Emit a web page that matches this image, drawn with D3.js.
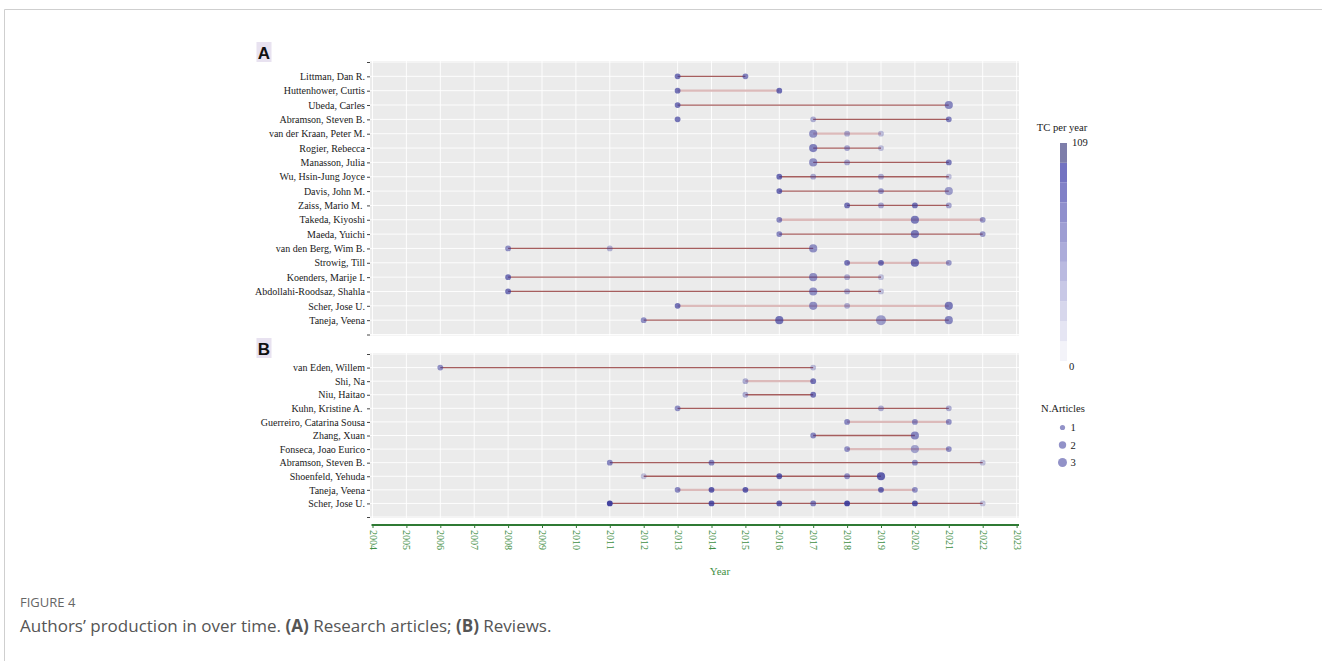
<!DOCTYPE html>
<html><head><meta charset="utf-8">
<script src="https://cdn.jsdelivr.net/npm/d3@7"></script>
<style>
body{margin:0;background:#fff;}
svg{display:block;}
text{white-space:pre;}
</style></head><body>
<svg id="fig" width="1322" height="661"></svg>
<script>
// ---- Panel A: research articles ----
const authorsA = ["Littman, Dan R.", "Huttenhower, Curtis", "Ubeda, Carles", "Abramson, Steven B.",
  "van der Kraan, Peter M.", "Rogier, Rebecca", "Manasson, Julia", "Wu, Hsin-Jung Joyce",
  "Davis, John M.", "Zaiss, Mario M. ", "Takeda, Kiyoshi", "Maeda, Yuichi", "van den Berg, Wim B.",
  "Strowig, Till", "Koenders, Marije I.", "Abdollahi-Roodsaz, Shahla", "Scher, Jose U.", "Taneja, Veena"];
const yearsA = [[2013, 2015], [2013, 2016], [2013, 2021], [2013, 2017, 2021],
  [2017, 2018, 2019], [2017, 2018, 2019], [2017, 2018, 2021], [2016, 2017, 2019, 2021],
  [2016, 2019, 2021], [2018, 2019, 2020, 2021], [2016, 2020, 2022], [2016, 2020, 2022], [2008, 2011, 2017],
  [2018, 2019, 2020, 2021], [2008, 2017, 2018, 2019], [2008, 2017, 2018, 2019], [2013, 2017, 2018, 2021], [2012, 2016, 2019, 2021]];
const articlesA = [[1, 1], [1, 1], [1, 2], [1, 1, 1],
  [2, 1, 1], [2, 1, 1], [2, 1, 1], [1, 1, 1, 1],
  [1, 1, 2], [1, 1, 1, 1], [1, 2, 1], [1, 2, 1], [1, 1, 2],
  [1, 1, 2, 1], [1, 2, 1, 1], [1, 2, 1, 1], [1, 2, 1, 2], [1, 2, 3, 2]];
const tcA = [[65, 55], [65, 70], [65, 50], [65, 25, 55],
  [45, 25, 14], [55, 30, 14], [45, 28, 60], [70, 28, 25, 12],
  [70, 40, 35], [65, 30, 65, 30], [50, 60, 40], [50, 60, 40], [45, 20, 45],
  [65, 70, 70, 40], [65, 45, 25, 12], [65, 45, 25, 12], [65, 45, 25, 60], [45, 65, 35, 50]];
const spanA = [[2013, 2015], [2013, 2016], [2013, 2021], [2017, 2021],
  [2017, 2019], [2017, 2019], [2017, 2021], [2016, 2021],
  [2016, 2021], [2018, 2021], [2016, 2022], [2016, 2022], [2008, 2017],
  [2018, 2021], [2008, 2019], [2008, 2019], [2013, 2021], [2012, 2021]];
const spanGroupA = ["a", "b", "a", "a", "b", "a", "a", "a", "a", "a", "b", "a", "a", "b", "a", "a", "b", "a"];

// ---- Panel B: reviews ----
const authorsB = ["van Eden, Willem", "Shi, Na", "Niu, Haitao", "Kuhn, Kristine A. ",
  "Guerreiro, Catarina Sousa", "Zhang, Xuan", "Fonseca, Joao Eurico", "Abramson, Steven B.",
  "Shoenfeld, Yehuda", "Taneja, Veena", "Scher, Jose U."];
const yearsB = [[2006, 2017], [2015, 2017], [2015, 2017], [2013, 2019, 2021],
  [2018, 2020, 2021], [2017, 2020], [2018, 2020, 2021], [2011, 2014, 2020, 2022],
  [2012, 2016, 2018, 2019], [2013, 2014, 2015, 2019, 2020], [2011, 2014, 2016, 2017, 2018, 2020, 2022]];
const articlesB = [[1, 1], [1, 1], [1, 1], [1, 1, 1],
  [1, 1, 1], [1, 2], [1, 2, 1], [1, 1, 1, 1],
  [1, 1, 1, 2], [1, 1, 1, 1, 1], [1, 1, 1, 1, 1, 1, 1]];
const tcB = [[45, 15], [25, 65], [25, 65], [45, 25, 25],
  [50, 45, 45], [50, 50], [45, 30, 45], [50, 50, 45, 10],
  [10, 80, 45, 80], [50, 80, 80, 75, 45], [100, 85, 80, 55, 95, 85, 8]];
const spanB = [[2006, 2017], [2015, 2017], [2015, 2017], [2013, 2021],
  [2018, 2021], [2017, 2020], [2018, 2021], [2011, 2022],
  [2012, 2019], [2013, 2020], [2011, 2022]];
const spanGroupB = ["a", "b", "a", "a", "b", "a", "b", "a", "a", "b", "a"];

// ---- Axis / legend values ----
const yearTicks = d3.range(2004, 2024);
const tcDomain = [0, 109];
const articleLevels = [1, 2, 3];

const svg = d3.select("#fig");
const serif = "Liberation Serif, Times New Roman, serif";

// outer frame
svg.append("path").attr("d", "M4.5,661 V9.5 H1322").attr("fill", "none")
  .attr("stroke", "#cfcfcf").attr("stroke-width", 1);

const x = d3.scaleLinear().domain([2004, 2023]).range([372.5, 1016.6]);
const plotLeft = 370, plotRight = 1019;

const alpha = d3.scaleLinear().domain(tcDomain).range([0.2, 1]);
const radius = d3.scaleSqrt().domain([0, 3]).range([0, 5]);
const spanStroke = d3.scaleOrdinal().domain(["a", "b"]).range(["#a65e5e", "#dcbaba"]);
const spanWidth = d3.scaleOrdinal().domain(["a", "b"]).range([1.3, 2.3]);
const dotColor = "#38389a";

function panel(cfg) {
  const cats = ["__top", ...cfg.authors, "__bot"];
  const y = d3.scalePoint().domain(cats).range(cfg.yRange);
  const g = svg.append("g");
  g.append("rect").attr("x", plotLeft).attr("y", cfg.yRange[0] - 1)
    .attr("width", plotRight - plotLeft).attr("height", cfg.yRange[1] - cfg.yRange[0] + 2)
    .attr("fill", "#ebebeb");
  // grid
  g.selectAll(".vg").data(yearTicks).join("line")
    .attr("x1", d => x(d)).attr("x2", d => x(d))
    .attr("y1", cfg.yRange[0] - 1).attr("y2", cfg.yRange[1] + 1)
    .attr("stroke", "#fff").attr("stroke-width", 0.9);
  g.selectAll(".hg").data(cats).join("line")
    .attr("x1", plotLeft).attr("x2", plotRight)
    .attr("y1", d => y(d)).attr("y2", d => y(d))
    .attr("stroke", "#fff").attr("stroke-width", 0.9);
  // y axis
  const ax = g.append("g").attr("transform", `translate(${plotLeft},0)`)
    .call(d3.axisLeft(y).tickSize(3).tickPadding(2)
      .tickFormat(d => d.startsWith("__") ? "" : d));
  ax.select(".domain").remove();
  ax.selectAll("line").attr("stroke", "#444");
  ax.selectAll("text").attr("font-family", serif).attr("font-size", 10).attr("fill", "#1a1a1a");
  // spans
  g.selectAll(".span").data(cfg.authors).join("line")
    .attr("x1", (d, i) => x(cfg.span[i][0])).attr("x2", (d, i) => x(cfg.span[i][1]))
    .attr("y1", d => y(d)).attr("y2", d => y(d))
    .attr("stroke", (d, i) => spanStroke(cfg.group[i]))
    .attr("stroke-width", (d, i) => spanWidth(cfg.group[i]));
  // points
  const pts = [];
  cfg.authors.forEach((a, i) => cfg.years[i].forEach((yr, j) =>
    pts.push({ author: a, year: yr, n: cfg.n[i][j], tc: cfg.tc[i][j] })));
  g.selectAll(".pt").data(pts).join("circle")
    .attr("cx", d => x(d.year)).attr("cy", d => y(d.author))
    .attr("r", d => radius(d.n))
    .attr("fill", dotColor).attr("fill-opacity", d => alpha(d.tc));
  // panel tag
  const tag = svg.append("g");
  tag.append("rect").attr("x", cfg.tag[1]).attr("y", cfg.tag[2]).attr("width", 15).attr("height", 20)
    .attr("fill", "#e8e2f0");
  tag.append("text").attr("x", cfg.tag[1] + 7.5).attr("y", cfg.tag[2] + 16.5).attr("text-anchor", "middle")
    .attr("font-family", "Liberation Sans, Arial, sans-serif").attr("font-weight", "bold")
    .attr("font-size", 17).attr("fill", "#111").text(cfg.tag[0]);
}

panel({ authors: authorsA, years: yearsA, n: articlesA, tc: tcA, span: spanA, group: spanGroupA,
  yRange: [62, 334.5], tag: ["A", 256.5, 42] });
panel({ authors: authorsB, years: yearsB, n: articlesB, tc: tcB, span: spanB, group: spanGroupB,
  yRange: [354, 517], tag: ["B", 256.5, 338] });

// x axis
const xa = svg.append("g").attr("transform", "translate(0,525)")
  .call(d3.axisBottom(x).tickValues(yearTicks).tickFormat(d3.format("d")).tickSize(3).tickPadding(4));
xa.select(".domain").attr("d", `M${plotLeft + 1.5},0H${plotRight}`).attr("stroke", "#2f7a34").attr("stroke-width", 2);
xa.selectAll(".tick line").attr("stroke", "#2f7a34");
xa.selectAll(".tick text").attr("font-family", serif).attr("font-size", 10).attr("fill", "#3f8f45")
  .attr("transform", "rotate(90)").attr("text-anchor", "start")
  .attr("x", 5).attr("y", 0).attr("dy", "0.35em");
svg.append("text").attr("x", 720).attr("y", 575).attr("text-anchor", "middle")
  .attr("font-family", serif).attr("font-size", 11).attr("fill", "#3f8f45").text("Year");

// colour legend (TC per year)
svg.append("text").attr("x", 1062).attr("y", 131).attr("text-anchor", "middle")
  .attr("font-family", serif).attr("font-size", 10.6).attr("fill", "#1a1a1a").text("TC per year");
const barCol = d3.scaleLinear().domain([0, 99, 109]).range(["#f3f3f9", "#7272c0", "#7e7eaa"]);
const nSteps = 11;
const barY = d3.scaleLinear().domain([0, nSteps]).range([361, 143]);
const steps = d3.range(nSteps);
svg.selectAll(".step").data(steps).join("rect")
  .attr("x", 1060).attr("width", 7)
  .attr("y", d => barY(d + 1)).attr("height", d => barY(d) - barY(d + 1))
  .attr("fill", d => barCol(tcDomain[1] * d / (nSteps - 1)));
svg.append("text").attr("x", 1072).attr("y", 146).attr("font-family", serif).attr("font-size", 10.6)
  .attr("fill", "#1a1a1a").text(tcDomain[1]);
svg.append("text").attr("x", 1069).attr("y", 370).attr("font-family", serif).attr("font-size", 10.6)
  .attr("fill", "#1a1a1a").text(tcDomain[0]);

// size legend (N.Articles)
svg.append("text").attr("x", 1041).attr("y", 412).attr("font-family", serif).attr("font-size", 10.6)
  .attr("fill", "#1a1a1a").text("N.Articles");
const legY = d3.scalePoint().domain(articleLevels).range([427.5, 462.5]);
const lg = svg.selectAll(".lg").data(articleLevels).join("g")
  .attr("transform", d => `translate(1062.5,${legY(d)})`);
lg.append("circle").attr("r", d => radius(d) * 0.9).attr("fill", dotColor).attr("fill-opacity", 0.55);
lg.append("text").attr("x", 8).attr("dy", "0.35em").attr("font-family", serif).attr("font-size", 10.6)
  .attr("fill", "#1a1a1a").text(d => d);

// caption
svg.append("text").attr("x", 20).attr("y", 607).attr("font-family", "Open Sans, sans-serif")
  .attr("font-size", 13).attr("fill", "#666").text("FIGURE 4");
const cap = svg.append("text").attr("x", 20).attr("y", 632).attr("font-family", "Open Sans, sans-serif")
  .attr("font-size", 17).attr("fill", "#555");
[["Authors\u2019 production in over time. ", false], ["(A)", true], [" Research articles; ", false],
 ["(B)", true], [" Reviews.", false]].forEach(([t, b]) =>
  cap.append("tspan").attr("font-weight", b ? "bold" : null).text(t));
</script>
</body></html>
